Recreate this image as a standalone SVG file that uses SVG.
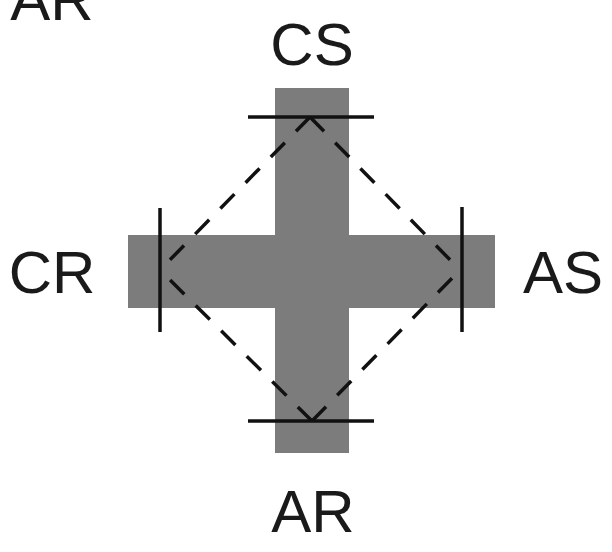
<svg xmlns="http://www.w3.org/2000/svg" width="612" height="552" viewBox="0 0 612 552">
<style>
.lbl{font-family:"Liberation Sans",Arial,sans-serif;font-size:60px;fill:#1a1a1a;text-anchor:middle}
.bar{fill:#7c7c7c}
.tick{stroke:#111;stroke-width:3.5;fill:none}
.dash{stroke:#111;stroke-width:3.5;fill:none;stroke-dasharray:20 16}
</style>
<rect width="612" height="552" fill="#fff"/>
<g id="cross">
<rect class="bar" x="275" y="88" width="74" height="365"/>
<rect class="bar" x="128" y="235" width="367" height="73"/>
</g>
<g id="connectors">
<path class="dash" d="M310 117 L460 270"/>
<path class="dash" d="M310 117 L160 270"/>
<path class="dash" d="M312 421 L460 270"/>
<path class="dash" d="M312 421 L160 270"/>
</g>
<g id="node-CS"><line class="tick" x1="248" y1="117" x2="374" y2="117"/><text class="lbl" x="312" y="65">CS</text></g>
<g id="node-AR"><line class="tick" x1="248" y1="421" x2="374" y2="421"/><text class="lbl" x="313" y="532">AR</text></g>
<g id="node-CR"><line class="tick" x1="160" y1="208" x2="160" y2="332"/><text class="lbl" x="52" y="293">CR</text></g>
<g id="node-AS"><line class="tick" x1="462" y1="207" x2="462" y2="332"/><text class="lbl" x="563" y="293">AS</text></g>
<g id="label-AR-top"><text class="lbl" x="52" y="20">AR</text></g>
</svg>
